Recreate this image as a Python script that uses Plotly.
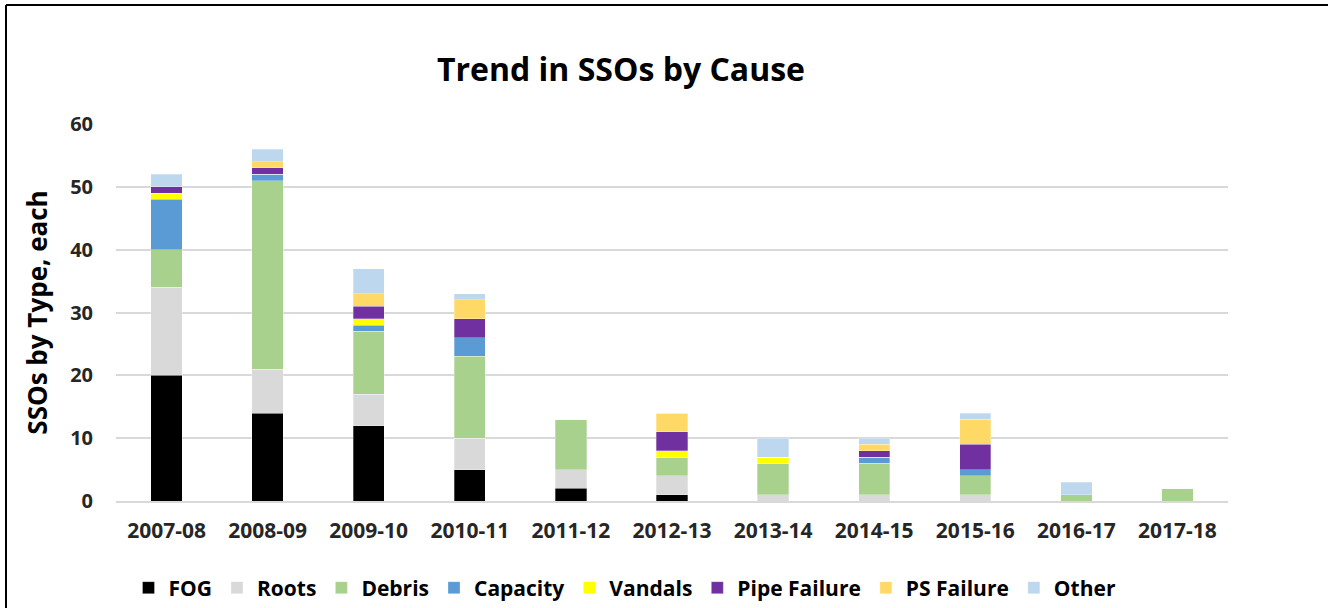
import plotly.graph_objects as go

years = ["2007-08", "2008-09", "2009-10", "2010-11", "2011-12", "2012-13",
         "2013-14", "2014-15", "2015-16", "2016-17", "2017-18"]
fog = [20, 14, 12, 5, 2, 1, 0, 0, 0, 0, 0]
roots = [14, 7, 5, 5, 3, 3, 1, 1, 1, 0, 0]
debris = [6, 30, 10, 13, 8, 3, 5, 5, 3, 1, 2]
capacity = [8, 1, 1, 3, 0, 0, 0, 1, 1, 0, 0]
vandals = [1, 0, 1, 0, 0, 1, 1, 0, 0, 0, 0]
pipe_failure = [1, 1, 2, 3, 0, 3, 0, 1, 4, 0, 0]
ps_failure = [0, 1, 2, 3, 0, 3, 0, 1, 4, 0, 0]
other = [2, 2, 4, 1, 0, 0, 3, 1, 1, 2, 0]

series = [
    ("FOG", fog, "#000000"),
    ("Roots", roots, "#D9D9D9"),
    ("Debris", debris, "#A9D18E"),
    ("Capacity", capacity, "#5B9BD5"),
    ("Vandals", vandals, "#FFFF00"),
    ("Pipe Failure", pipe_failure, "#7030A0"),
    ("PS Failure", ps_failure, "#FFD966"),
    ("Other", other, "#BDD7EE"),
]

FONT = "Open Sans"

fig = go.Figure()
for name, vals, color in series:
    fig.add_trace(go.Bar(
        x=years, y=vals, name=name,
        marker=dict(color=color, line=dict(color="rgba(255,255,255,0.6)", width=0.5)),
    ))

fig.update_layout(
    barmode="stack",
    bargap=0.69,
    width=1328, height=608,
    margin=dict(l=116, r=100, t=124, b=107, autoexpand=False),
    paper_bgcolor="white", plot_bgcolor="white",
    font=dict(family=FONT, color="#262626"),
    title=dict(text="<b>Trend in SSOs by Cause</b>", x=621/1328, xanchor="center",
               y=1 - 70/608, yanchor="middle",
               font=dict(size=32, family=FONT, color="#000000")),
    legend=dict(orientation="h", x=625/1328, xref="container", xanchor="center",
                y=1 - 588/608, yref="container", yanchor="middle",
                font=dict(size=21, family=FONT, color="#000000", weight="bold"),
                itemwidth=30, traceorder="normal", itemclick=False),
    xaxis=dict(type="category", showgrid=False, showline=True, linecolor="#D9D9D9",
               linewidth=1.5, ticks="",
               tickfont=dict(size=21, family=FONT, color="#262626", weight="bold"),
               ticklabelstandoff=10),
    yaxis=dict(range=[0, 60], dtick=10, showgrid=True, gridcolor="#D9D9D9", gridwidth=1.5,
               zeroline=False, ticks="",
               tickfont=dict(size=20, family=FONT, color="#262626", weight="bold"),
               ticklabelstandoff=22,
               title=dict(text="SSOs by Type, each", standoff=15,
                          font=dict(size=26, family=FONT, color="#000000", weight="bold"))),
    shapes=[
        dict(type="line", xref="paper", yref="paper",
             x0=(6 - 116) / 1112, x1=(1328 - 116) / 1112,
             y0=(501 - 5) / 377, y1=(501 - 5) / 377,
             line=dict(color="#000000", width=2)),
        dict(type="line", xref="paper", yref="paper",
             x0=(6 - 116) / 1112, x1=(6 - 116) / 1112,
             y0=(501 - 5) / 377, y1=(501 - 610) / 377,
             line=dict(color="#000000", width=2)),
    ],
)

fig.write_html("out.html")
